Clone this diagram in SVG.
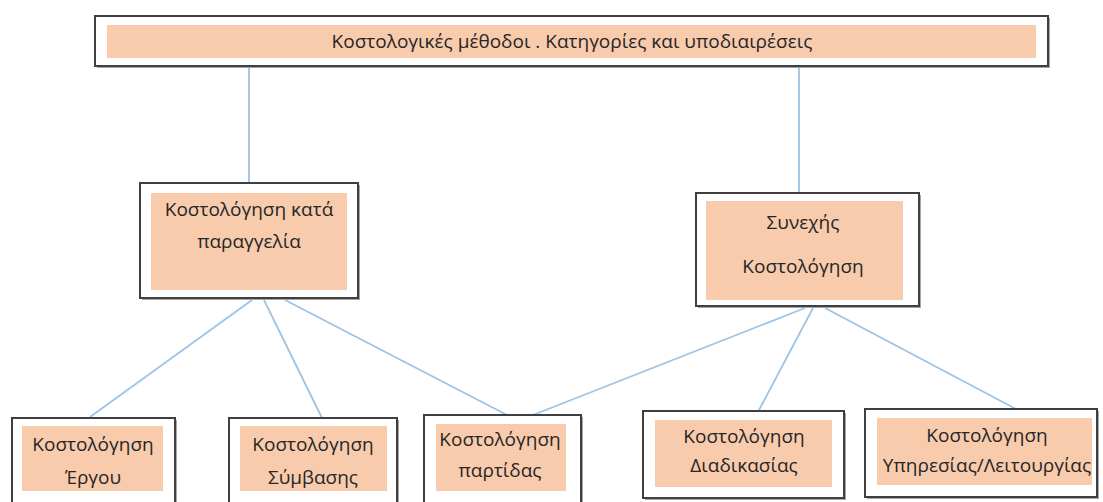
<svg xmlns="http://www.w3.org/2000/svg" width="1103" height="502" viewBox="0 0 1103 502">
<defs>
<style>
.sh{fill:#a6a6a6;}
.out{fill:#ffffff;stroke:#3f3f3f;stroke-width:2;}
.in{fill:#f8cbad;}
.t{font-family:"Open Sans","Liberation Sans",sans-serif;font-size:19px;fill:#262626;text-anchor:middle;}
.c{stroke:#9dc3e6;stroke-width:1.8;fill:none;}
</style>
</defs>
<rect width="1103" height="502" fill="#ffffff"/>
<g id="connectors">
<line class="c" x1="249" y1="66" x2="249" y2="183"/>
<line class="c" x1="799" y1="66" x2="799" y2="193"/>
<line class="c" x1="252" y1="300" x2="90" y2="417"/>
<line class="c" x1="264" y1="300" x2="322" y2="418"/>
<line class="c" x1="285" y1="300" x2="507" y2="415"/>
<line class="c" x1="805" y1="308" x2="533" y2="415"/>
<line class="c" x1="813" y1="308" x2="758" y2="412"/>
<line class="c" x1="825" y1="308" x2="1016" y2="409"/>
</g>
<g id="title">
<rect class="sh" x="97" y="18" width="953" height="50"/>
<rect class="out" x="95" y="16" width="953" height="50"/>
<rect class="in" x="107" y="25" width="929" height="33"/>
<text class="t" x="572" y="48">Κοστολογικές μέθοδοι . Κατηγορίες και υποδιαιρέσεις</text>
</g>
<g id="node-order">
<rect class="sh" x="142" y="185" width="218" height="115"/>
<rect class="out" x="140" y="183" width="218" height="115"/>
<rect class="in" x="151" y="193" width="196" height="97"/>
<text class="t" x="249" y="216">Κοστολόγηση κατά</text>
<text class="t" x="249" y="248">παραγγελία</text>
</g>
<g id="node-continuous">
<rect class="sh" x="698" y="195" width="223" height="113"/>
<rect class="out" x="696" y="193" width="223" height="113"/>
<rect class="in" x="706" y="201" width="197" height="99"/>
<text class="t" x="803" y="229">Συνεχής</text>
<text class="t" x="803" y="273">Κοστολόγηση</text>
</g>
<g id="node-project">
<rect class="sh" x="14" y="420" width="163" height="90"/>
<rect class="out" x="12" y="418" width="163" height="90"/>
<rect class="in" x="22" y="426" width="141" height="65"/>
<text class="t" x="93" y="451">Κοστολόγηση</text>
<text class="t" x="93" y="484">Έργου</text>
</g>
<g id="node-contract">
<rect class="sh" x="231" y="420" width="168" height="90"/>
<rect class="out" x="229" y="418" width="168" height="90"/>
<rect class="in" x="240" y="426" width="147" height="65"/>
<text class="t" x="313" y="451">Κοστολόγηση</text>
<text class="t" x="313" y="484">Σύμβασης</text>
</g>
<g id="node-batch">
<rect class="sh" x="426" y="417" width="157" height="90"/>
<rect class="out" x="424" y="415" width="157" height="90"/>
<rect class="in" x="436" y="424" width="130" height="67"/>
<text class="t" x="500" y="446">Κοστολόγηση</text>
<text class="t" x="500" y="477">παρτίδας</text>
</g>
<g id="node-process">
<rect class="sh" x="645" y="413" width="201" height="87"/>
<rect class="out" x="643" y="411" width="201" height="87"/>
<rect class="in" x="655" y="420" width="177" height="67"/>
<text class="t" x="744" y="443">Κοστολόγηση</text>
<text class="t" x="744" y="472">Διαδικασίας</text>
</g>
<g id="node-service">
<rect class="sh" x="867" y="411" width="232" height="88"/>
<rect class="out" x="865" y="409" width="232" height="88"/>
<rect class="in" x="877" y="418" width="215" height="67"/>
<text class="t" x="987" y="442">Κοστολόγηση</text>
<text class="t" x="987" y="472">Υπηρεσίας/Λειτουργίας</text>
</g>
</svg>
